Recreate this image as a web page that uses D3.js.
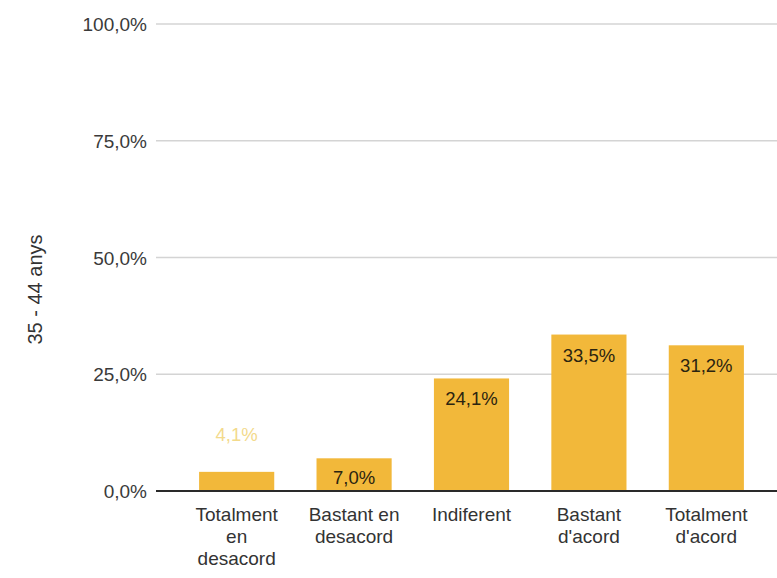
<!DOCTYPE html>
<html>
<head>
<meta charset="utf-8">
<script src="https://cdn.jsdelivr.net/npm/d3@7"></script>
<style>
  html, body { margin: 0; padding: 0; background: #fff; }
  svg { display: block; font-family: "Liberation Sans", Arial, sans-serif; }
</style>
</head>
<body>
<svg id="chart" width="777" height="578"></svg>
<script>
// ---- data ----
const categories = ["Totalment en desacord", "Bastant en desacord", "Indiferent", "Bastant d'acord", "Totalment d'acord"];
const categoryLines = [["Totalment", "en", "desacord"], ["Bastant en", "desacord"], ["Indiferent"], ["Bastant", "d'acord"], ["Totalment", "d'acord"]];
const values = [4.1, 7.0, 24.1, 33.5, 31.2];
const yTicks = [0, 25, 50, 75, 100];
const yTitle = "35 - 44 anys";

// ---- chart ----
const svg = d3.select("#chart");
const W = 777, H = 578;
const plotLeft = 156, plotRight = 800;
const y0 = 491, y100 = 24;

const locale = d3.formatLocale({ decimal: ",", thousands: ".", grouping: [3], currency: ["", "€"] });
const fmt = v => locale.format(".1f")(v) + "%";

const x = d3.scaleBand()
  .domain(categories)
  .range([158, 785])
  .paddingInner(0.36)
  .paddingOuter(0.35);

const y = d3.scaleLinear().domain([0, 100]).range([y0, y100]);

// gridlines
svg.append("g").selectAll("line")
  .data(yTicks.filter(t => t > 0))
  .join("line")
  .attr("x1", plotLeft).attr("x2", plotRight)
  .attr("y1", d => y(d)).attr("y2", d => y(d))
  .attr("stroke", "#d4d4d4").attr("stroke-width", 1.3);

// y tick labels
const yAxis = d3.axisLeft(y).tickValues(yTicks).tickSize(0).tickPadding(0).tickFormat(fmt);
const gy = svg.append("g").attr("transform", "translate(147,0)").call(yAxis);
gy.select(".domain").remove();
gy.selectAll("text")
  .attr("font-size", 19).attr("fill", "#3a3a3a")
  .attr("font-family", "'Liberation Sans', Arial, sans-serif")
  .attr("dy", "0.35em");

// bars
svg.append("g").selectAll("rect")
  .data(values)
  .join("rect")
  .attr("x", (d, i) => x(categories[i]))
  .attr("width", x.bandwidth())
  .attr("y", d => y(d))
  .attr("height", d => y0 - y(d))
  .attr("fill", "#f2b83a");

// zero line
svg.append("line")
  .attr("x1", plotLeft).attr("x2", plotRight)
  .attr("y1", y(0)).attr("y2", y(0))
  .attr("stroke", "#2a2a2a").attr("stroke-width", 1.8);

// data labels
svg.append("g").selectAll("text")
  .data(values)
  .join("text")
  .attr("x", (d, i) => x(categories[i]) + x.bandwidth() / 2)
  .attr("y", d => {
    const top = y(d);
    if (y0 - top < 25) return top - 31;
    return Math.min(top + 27, y0 - 7);
  })
  .attr("text-anchor", "middle")
  .attr("font-size", 18.5)
  .attr("fill", d => (y0 - y(d) < 25) ? "#f3da8c" : "#2b2410")
  .text(d => fmt(d));

// x tick labels
const gx = svg.append("g");
categories.forEach((c, i) => {
  const t = gx.append("text")
    .attr("x", x(c) + x.bandwidth() / 2)
    .attr("y", y0 + 30)
    .attr("text-anchor", "middle")
    .attr("font-size", 19)
    .attr("fill", "#333");
  categoryLines[i].forEach((ln, j) => {
    t.append("tspan")
      .attr("x", x(c) + x.bandwidth() / 2)
      .attr("dy", j === 0 ? 0 : 22)
      .text(ln);
  });
});

// y axis title
svg.append("text")
  .attr("transform", "translate(42," + ((y(0) + y(100)) / 2 + 32) + ") rotate(-90)")
  .attr("text-anchor", "middle")
  .attr("font-size", 20)
  .attr("fill", "#333")
  .text(yTitle);
</script>
</body>
</html>
